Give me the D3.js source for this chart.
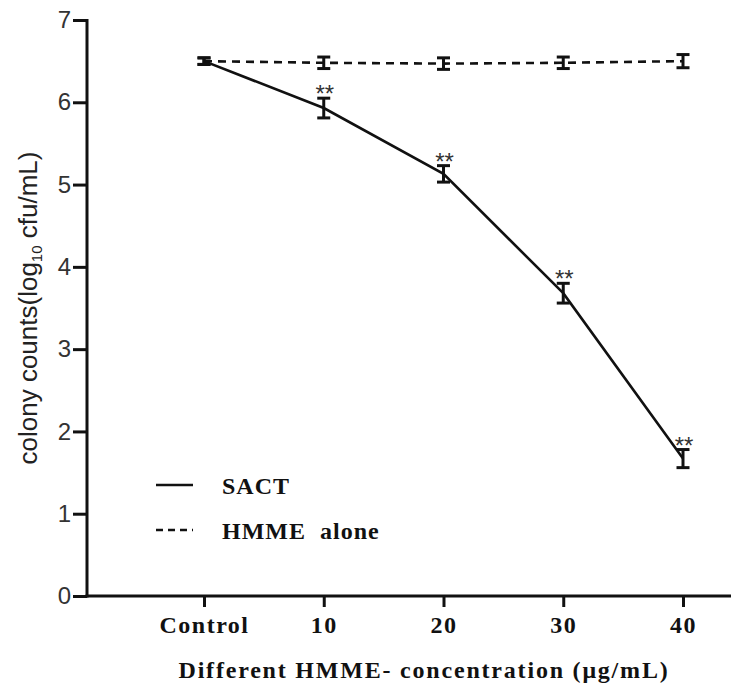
<!DOCTYPE html>
<html>
<head>
<meta charset="utf-8">
<script src="https://cdn.jsdelivr.net/npm/d3@7"></script>
<style>
  body { margin: 0; background: #fff; }
  svg { display: block; }
</style>
</head>
<body>
<div id="chart"></div>
<script>
const width = 736;
const height = 686;

// data
const categories = ["Control", "10", "20", "30", "40"];
const sactMean = [6.5, 5.93, 5.13, 3.68, 1.67];
const sactErr = [0.04, 0.12, 0.1, 0.12, 0.11];
const hmmeMean = [6.5, 6.48, 6.47, 6.48, 6.5];
const hmmeErr = [0.04, 0.07, 0.07, 0.07, 0.08];
const sactStars = ["", "**", "**", "**", "**"];
const yTicks = [0, 1, 2, 3, 4, 5, 6, 7];

const serif = "'Liberation Serif', 'Times New Roman', serif";
const sans = "'Liberation Sans', Arial, sans-serif";

const svg = d3.select("#chart")
    .append("svg")
    .attr("width", width)
    .attr("height", height);

const x = d3.scalePoint()
    .domain(categories)
    .range([204, 683]);

const y = d3.scaleLinear()
    .domain([0, 7])
    .range([596, 20]);

const axisX0 = 87;

// eje y
const yAxis = svg.append("g")
    .attr("transform", `translate(${axisX0},0)`)
    .call(d3.axisLeft(y).tickValues(yTicks).tickSize(14).tickPadding(2).tickFormat(d3.format("d")));
yAxis.select(".domain").remove();
yAxis.selectAll(".tick line").attr("stroke", "#111").attr("stroke-width", 3);
yAxis.selectAll(".tick text")
    .attr("fill", "#333")
    .style("font-family", sans)
    .style("font-size", "24px");
svg.append("line")
    .attr("x1", axisX0).attr("x2", axisX0)
    .attr("y1", y(7) - 1).attr("y2", y(0) + 1.5)
    .attr("stroke", "#111").attr("stroke-width", 3);

// eje x
const xAxis = svg.append("g")
    .attr("transform", `translate(0,${y(0)})`)
    .call(d3.axisBottom(x).tickSize(11).tickPadding(9));
xAxis.select(".domain").remove();
xAxis.selectAll(".tick line").attr("stroke", "#111").attr("stroke-width", 3);
xAxis.selectAll(".tick text")
    .attr("fill", "#111")
    .style("font-family", serif)
    .style("font-weight", "bold")
    .style("font-size", "24px")
    .style("letter-spacing", "1.5px");
svg.append("line")
    .attr("x1", axisX0 - 1.5).attr("x2", 731)
    .attr("y1", y(0)).attr("y2", y(0))
    .attr("stroke", "#111").attr("stroke-width", 3);

// titulos
svg.append("text")
    .attr("transform", `translate(37,${(y(0) + y(7)) / 2}) rotate(-90)`)
    .attr("text-anchor", "middle")
    .attr("fill", "#222")
    .style("font-family", sans)
    .style("font-size", "26px")
    .html('colony counts(log<tspan font-size="15px" dy="5">10</tspan><tspan dy="-5"> cfu/mL)</tspan>');

svg.append("text")
    .attr("x", 424)
    .attr("y", 678)
    .attr("text-anchor", "middle")
    .attr("fill", "#111")
    .style("font-family", serif)
    .style("font-weight", "bold")
    .style("font-size", "24px")
    .style("letter-spacing", "1.8px")
    .text("Different HMME- concentration (\u03bcg/mL)");

// series
const line = d3.line().x((d, i) => x(categories[i])).y(d => y(d));

const series = [
    { name: "HMME alone", mean: hmmeMean, err: hmmeErr, dash: "8,6" },
    { name: "SACT", mean: sactMean, err: sactErr, dash: null }
];

series.forEach(s => {
    svg.append("path")
        .datum(s.mean)
        .attr("d", line)
        .attr("fill", "none")
        .attr("stroke", "#111")
        .attr("stroke-width", 2.6)
        .attr("stroke-dasharray", s.dash);

    const eb = svg.append("g").selectAll("g")
        .data(s.mean)
        .enter()
        .append("g")
        .attr("stroke", "#111");

    eb.append("line")
        .attr("x1", (d, i) => x(categories[i]))
        .attr("x2", (d, i) => x(categories[i]))
        .attr("y1", (d, i) => y(d + s.err[i]))
        .attr("y2", (d, i) => y(d - s.err[i]))
        .attr("stroke-width", 3);
    eb.append("line")
        .attr("x1", (d, i) => x(categories[i]) - 6.5)
        .attr("x2", (d, i) => x(categories[i]) + 6.5)
        .attr("y1", (d, i) => y(d + s.err[i]))
        .attr("y2", (d, i) => y(d + s.err[i]))
        .attr("stroke-width", 3);
    eb.append("line")
        .attr("x1", (d, i) => x(categories[i]) - 6.5)
        .attr("x2", (d, i) => x(categories[i]) + 6.5)
        .attr("y1", (d, i) => y(d - s.err[i]))
        .attr("y2", (d, i) => y(d - s.err[i]))
        .attr("stroke-width", 3);
});

// asteriscos
svg.append("g").selectAll("text")
    .data(sactMean)
    .enter()
    .append("text")
    .attr("x", (d, i) => x(categories[i]) + 1)
    .attr("y", (d, i) => y(d + sactErr[i]) + 4)
    .attr("text-anchor", "middle")
    .attr("fill", "#333")
    .style("font-family", sans)
    .style("font-size", "24px")
    .text((d, i) => sactStars[i]);

// leyenda
const legend = svg.append("g");
const legendItems = [
    { name: "SACT", dash: null, y: 485 },
    { name: "HMME  alone", dash: "7,5", y: 530 }
];
legend.selectAll("line")
    .data(legendItems)
    .enter()
    .append("line")
    .attr("x1", 156).attr("x2", 193)
    .attr("y1", d => d.y).attr("y2", d => d.y)
    .attr("stroke", "#111")
    .attr("stroke-width", 2.6)
    .attr("stroke-dasharray", d => d.dash);
legend.selectAll("text")
    .data(legendItems)
    .enter()
    .append("text")
    .attr("x", 222)
    .attr("y", d => d.y + 9)
    .attr("fill", "#111")
    .style("font-family", serif)
    .style("font-weight", "bold")
    .style("font-size", "24px")
    .style("letter-spacing", "1px")
    .style("white-space", "pre")
    .text(d => d.name);
</script>
</body>
</html>
